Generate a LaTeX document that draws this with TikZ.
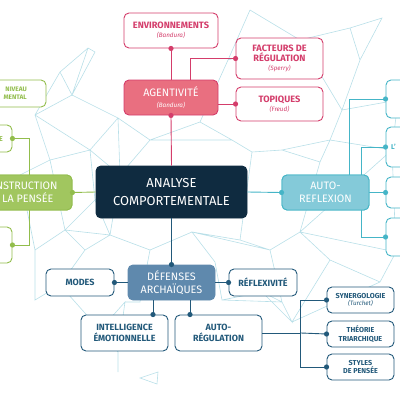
\documentclass[tikz,border=0pt]{standalone}
\usepackage{fontspec}
\setmainfont{Fira Sans}
\definecolor{pinkc}{HTML}{D43D6B}
\definecolor{pinkfill}{HTML}{E96F80}
\definecolor{navy}{HTML}{0F2B40}
\definecolor{tealc}{HTML}{45B5C7}
\definecolor{tealfill}{HTML}{84CAD9}
\definecolor{greenc}{HTML}{92BD4C}
\definecolor{greenfill}{HTML}{A1C65F}
\definecolor{bluec}{HTML}{22597A}
\definecolor{bluefill}{HTML}{5F89AD}
\definecolor{meshc}{HTML}{B8DFE8}
\tikzset{
  box/.style={draw, rounded corners=5pt, line width=0.9pt, align=center, inner sep=0pt, fill=white},
  pinkbox/.style={box, draw=pinkc, text=pinkc, font=\bfseries\fontsize{9.2}{10.6}\selectfont},
  bluebox/.style={box, draw=bluec, text=bluec, font=\bfseries\fontsize{9}{10.6}\selectfont},
  smallblue/.style={box, draw=bluec, text=bluec, font=\bfseries\fontsize{7.2}{8.4}\selectfont},
  filledbox/.style={box, text=white, font=\fontsize{10.8}{13}\selectfont},
  tealbox/.style={box, draw=tealc, text=tealc, font=\bfseries\fontsize{6.5}{7.5}\selectfont},
  greenbox/.style={box, draw=greenc, text=greenc, font=\bfseries\fontsize{6.5}{7.5}\selectfont},
  link/.style={line width=0.9pt},
  mesh/.style={draw=meshc, line width=0.6pt},
}
\newcommand\dotat[2]{\fill[#1] (#2) circle (2.6pt);}
\newcommand\subt[1]{\\[-1.5pt]{\mdseries\itshape\fontsize{6.3}{7.2}\selectfont #1}}
\begin{document}
\begin{tikzpicture}[x=1pt,y=-1pt]
\useasboundingbox (0,0) rectangle (400,400);
\clip (0,0) rectangle (400,400);
% background mesh
\coordinate (A) at (35,115); \coordinate (B) at (60,72); \coordinate (C) at (88,48);
\coordinate (D) at (95,52); \coordinate (E) at (72,95); \coordinate (F) at (118,118);
\coordinate (G) at (90,150); \coordinate (H) at (50,160); \coordinate (I) at (20,175);
\coordinate (J) at (65,230); \coordinate (K) at (35,250); \coordinate (L) at (85,250);
\coordinate (M) at (110,235); \coordinate (N) at (60,285); \coordinate (O) at (35,300);
\coordinate (P) at (120,175); \coordinate (Q) at (150,140); \coordinate (R) at (200,122);
\coordinate (S) at (232,140); \coordinate (T) at (252,152); \coordinate (U) at (270,250);
\coordinate (V) at (240,240); \coordinate (W) at (222,300); \coordinate (X) at (282,302);
\coordinate (Y) at (300,232); \coordinate (Z) at (330,140); \coordinate (AA) at (342,110);
\coordinate (AB) at (360,60); \coordinate (AC) at (350,28); \coordinate (AD) at (382,18);
\coordinate (AE) at (300,40); \coordinate (AF) at (320,162); \coordinate (AG) at (282,150);
\coordinate (AH) at (150,250); \coordinate (AI) at (140,302); \coordinate (AJ) at (192,232);
\coordinate (AK) at (100,330); \coordinate (AL) at (118,352); \coordinate (AM) at (118,372);
\coordinate (AN) at (125,302); \coordinate (AO) at (392,150); \coordinate (AP) at (396,252);
\coordinate (AQ) at (380,282); \coordinate (AR) at (292,322); \coordinate (AS) at (262,292);
\coordinate (AT) at (215,262); \coordinate (AU) at (250,10); \coordinate (AV) at (228,60);
\coordinate (AW) at (398,100); \coordinate (AX) at (330,260); \coordinate (AY) at (95,200);
\draw[mesh] (A)--(B)--(C)--(D)--(E)--(A) (B)--(E)--(C) (E)--(F)--(G)--(A) (G)--(H)--(I) (H)--(A)
  (G)--(P)--(F) (P)--(Q)--(F) (Q)--(R)--(S)--(T) (S)--(Q) (T)--(AG)--(Z)--(AA)--(AB)--(AC)--(AD)--(AB)
  (AE)--(AC) (AE)--(AA) (Z)--(AF)--(AG) (AF)--(Y)--(U)--(V)--(T) (V)--(AJ)--(AT)--(W)--(X)--(U)
  (X)--(AS)--(W) (AS)--(AR)--(X) (H)--(J)--(K)--(I) (J)--(L)--(M)--(J) (M)--(P) (L)--(N)--(O)--(K)
  (N)--(AK)--(AL)--(AM) (AL)--(AN)--(AK) (M)--(AH)--(AI)--(AN) (AH)--(AJ) (AO)--(Z) (AO)--(AP)--(Y)
  (AP)--(AQ)--(AR) (Y)--(AO) (AU)--(AV)--(AE)--(AU) (AV)--(R) (AW)--(AA) (AW)--(AO) (AX)--(Y) (AX)--(AQ)
  (AX)--(AR) (AY)--(P) (AY)--(J) (AY)--(M) (G)--(AY) (AJ)--(U) (R)--(AV);
\draw[mesh] (140,378)--(158,372)--(157,384)--cycle;
% nodes
\node[pinkbox, minimum width=94pt, minimum height=35pt] (env) at (171,30.5) {ENVIRONNEMENTS\subt{(Bandura)}};
\node[pinkbox, minimum width=87pt, minimum height=41pt] (fact) at (279.5,58.5) {FACTEURS DE\\R\'EGULATION\subt{(Sperry)}};
\node[pinkbox, minimum width=87pt, minimum height=34pt] (top) at (279.5,104) {TOPIQUES\subt{(Freud)}};
\node[filledbox, draw=pinkc, fill=pinkfill, minimum width=94pt, minimum height=35pt] (agent) at (171,97.5) {AGENTIVIT\'E\subt{(Bandura)}};
\node[box, draw=navy, fill=navy, text=white, font=\fontsize{13}{17.5}\selectfont, minimum width=151pt, minimum height=52pt] (ana) at (171.5,192) {ANALYSE\\COMPORTEMENTALE};
\node[filledbox, draw=tealc, fill=tealfill, minimum width=87pt, minimum height=35pt] (autor) at (325.5,192.5) {AUTO-\\REFLEXION};
\node[filledbox, draw=greenc, fill=greenfill, minimum width=104pt, minimum height=35pt] (constr) at (20,192.5) {CONSTRUCTION\\DE LA PENS\'EE};
\node[filledbox, draw=bluefill, fill=bluefill, minimum width=87pt, minimum height=35pt] (def) at (171.5,282.5) {D\'EFENSES\\ARCHA\"IQUES};
\node[bluebox, minimum width=68pt, minimum height=27pt] (modes) at (80,282.5) {MODES};
\node[bluebox, minimum width=68pt, minimum height=27pt] (refl) at (263,282.5) {R\'EFLEXIVIT\'E};
\node[bluebox, minimum width=87pt, minimum height=36pt] (intel) at (124.5,333) {INTELLIGENCE\\\'EMOTIONNELLE};
\node[bluebox, minimum width=87pt, minimum height=36pt] (autoreg) at (218.5,333) {AUTO-\\R\'EGULATION};
\node[smallblue, minimum width=67pt, minimum height=26pt] (syn) at (360.5,300) {SYNERGOLOGIE\subt{(Turchet)}};
\node[smallblue, minimum width=67pt, minimum height=26pt] (theo) at (360.5,334) {TH\'EORIE\\TRIARCHIQUE};
\node[smallblue, minimum width=67pt, minimum height=26pt] (sty) at (360.5,367) {STYLES\\DE PENS\'EE};
% right (cut) column
\node[tealbox, minimum width=88pt, minimum height=38pt] (r1) at (430,99) {};
\node[tealbox, minimum width=88pt, minimum height=40pt] (r2) at (430,147) {};
\node[tealbox, minimum width=88pt, minimum height=31pt] (r3) at (430,192.5) {};
\node[tealbox, minimum width=88pt, minimum height=38pt] (r4) at (430,237) {};
\node[anchor=west, text=tealc, font=\bfseries\fontsize{7}{8}\selectfont, inner sep=0pt] (r2t) at (391,147) {L'};
% left (cut) column
\node[greenbox, minimum width=112pt, minimum height=27pt] (niv) at (-10,93.5) {};
\node[anchor=east, align=right, text=greenc, font=\bfseries\fontsize{6.5}{7.8}\selectfont, inner sep=0pt] (nivt) at (27,93.5) {NIVEAU\\MENTAL};
\node[greenbox, minimum width=84pt, minimum height=27pt] (le) at (-30,138.5) {};
\node[anchor=west, text=greenc, font=\bfseries\fontsize{7}{8}\selectfont, inner sep=0pt] (let) at (-1,139) {E};
\node[greenbox, minimum width=84pt, minimum height=36pt] (lb) at (-30,245) {};
% connectors
\draw[link, draw=pinkc] (env.south) -- (agent.north);
\draw[link, draw=pinkc] (fact.west) -| ([xshift=19pt]agent.north);
\draw[link, draw=pinkc] (agent.east |- top.west) -- (top.west);
\draw[link, draw=pinkc] (agent.south) -- (ana.north);
\draw[link, draw=tealc] (ana.east) -- (autor.west);
\draw[link, draw=tealc] ([xshift=23.5pt]autor.north) |- (r1.west);
\draw[link, draw=tealc] (r2.west) -- ++(-24,0) |- (r4.west);
\draw[link, draw=tealc] (autor.east) -- (r3.west);
\draw[link, draw=greenc] (ana.west) -- (constr.east);
\draw[link, draw=greenc] (le.east) -- ++(17,0) |- (lb.east);
\draw[link, draw=bluec] (ana.south) -- (def.north);
\draw[link, draw=bluec] (modes.east) -- (def.west);
\draw[link, draw=bluec] (def.east) -- (refl.west);
\draw[link, draw=bluec] ([xshift=-18.5pt]def.south) -- ([xshift=28.5pt]intel.north);
\draw[link, draw=bluec] ([xshift=18.5pt]def.south) -- ([xshift=-28.5pt]autoreg.north);
\draw[link, draw=bluec] (autoreg.east) -- ++(38.5,0) coordinate (bj);
\draw[link, draw=bluec] (syn.west) -- ++(-26,0) |- (sty.west);
\draw[link, draw=bluec] (bj) -- (theo.west);
% redraw boxes over lines that cross them
\node[filledbox, draw=greenc, fill=greenfill, minimum width=104pt, minimum height=35pt] (constr2) at (20,192.5) {CONSTRUCTION\\DE LA PENS\'EE};
\node[filledbox, draw=tealc, fill=tealfill, minimum width=87pt, minimum height=35pt] (autor2) at (325.5,192.5) {AUTO-\\REFLEXION};
% dots
\dotat{pinkc}{env.south}
\dotat{pinkc}{fact.west}
\dotat{pinkc}{top.west}
\dotat{pinkc}{agent.south}
\dotat{tealc}{autor.west}
\dotat{tealc}{r1.west}
\dotat{tealc}{r2.west}
\dotat{tealc}{r3.west}
\dotat{tealc}{r4.west}
\dotat{greenc}{constr.east}
\dotat{greenc}{le.east}
\dotat{greenc}{lb.east}
\dotat{bluec}{def.north}
\dotat{bluec}{modes.east}
\dotat{bluec}{refl.west}
\dotat{bluec}{[xshift=28.5pt]intel.north}
\dotat{bluec}{[xshift=-28.5pt]autoreg.north}
\dotat{bluec}{syn.west}
\dotat{bluec}{theo.west}
\dotat{bluec}{sty.west}
\end{tikzpicture}
\end{document}
